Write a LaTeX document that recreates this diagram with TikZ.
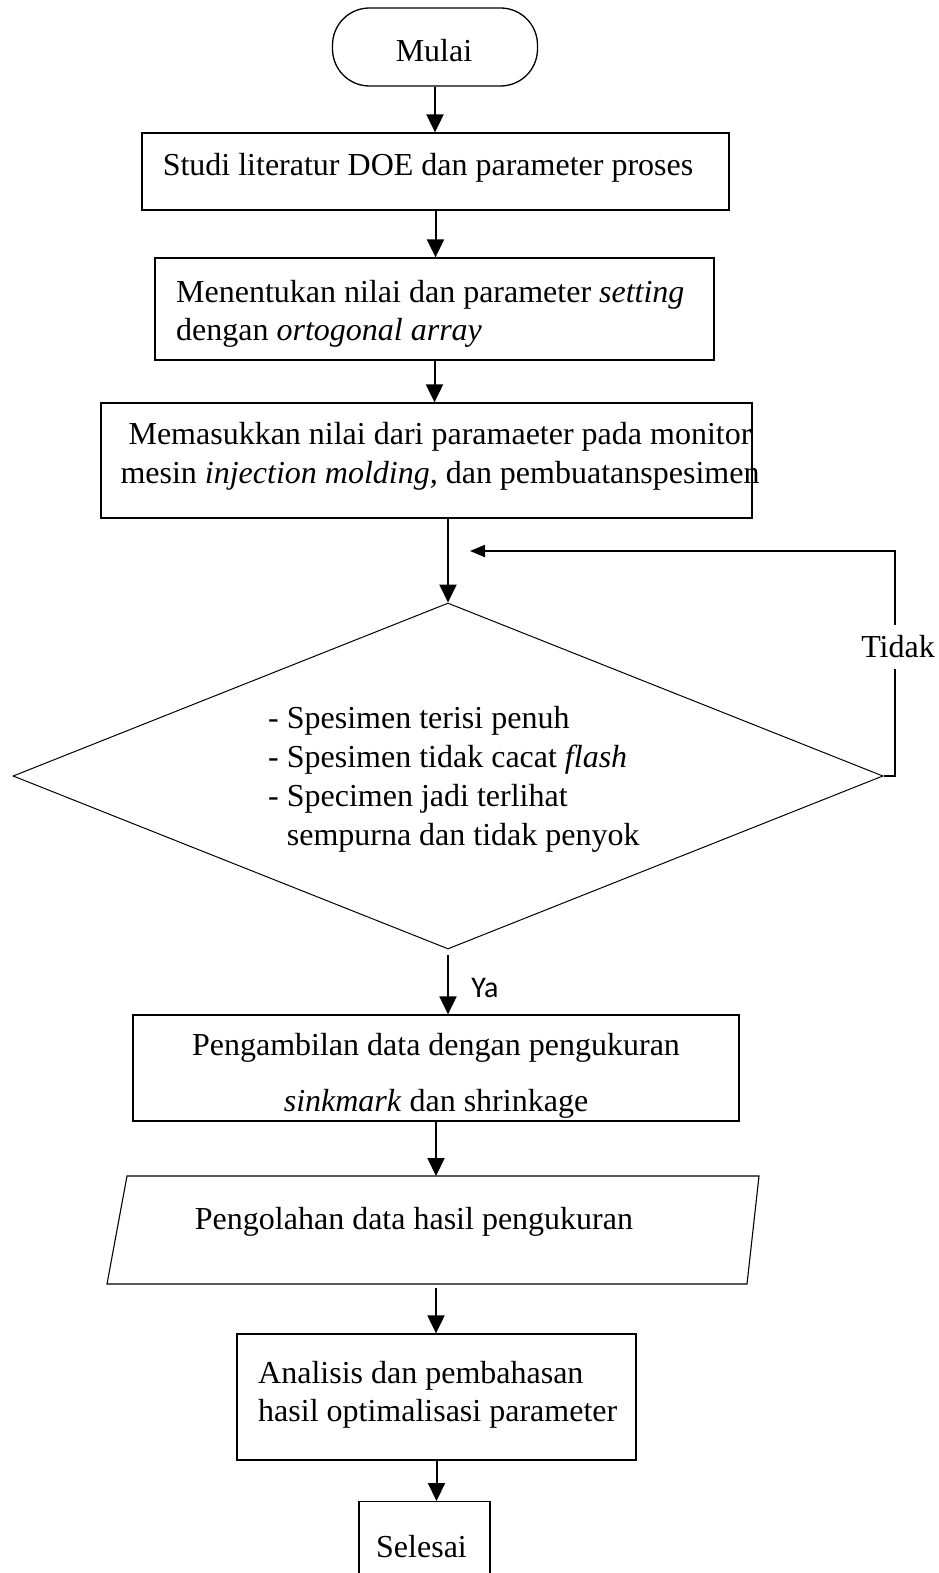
\documentclass[tikz,border=0pt]{standalone}
\usepackage{fontspec}
\setmainfont{Liberation Serif}
\newfontfamily\carl{Carlito}
\usetikzlibrary{shapes.geometric,arrows.meta}
\begin{document}
\begin{tikzpicture}[x=1pt,y=-1pt,
  box/.style={draw,line width=1.3pt,inner sep=0pt},
  txt/.style={font=\fontsize{32}{38.5}\selectfont, inner sep=0pt},
  arr/.style={line width=2pt,-{Triangle[width=17pt,length=18pt]}},
  fbarr/.style={line width=2pt,-{Triangle[width=12pt,length=15pt]}},
  thinline/.style={line width=1.1pt}]
\useasboundingbox (0,0) rectangle (938,1573);
\fill[white] (0,0) rectangle (938,1573);

% terminal start
\node[box, rounded corners=37pt, minimum width=205pt, minimum height=78pt] (mulai) at (435,47) {};
\node[txt] (tm) at (434,51) {Mulai};

% box 1
\node[box, minimum width=587pt, minimum height=77pt] (b1) at (435.5,171.5) {};
\node[txt] (t1) at (428,168) {Studi literatur DOE dan parameter proses};

% box 2
\node[box, minimum width=559pt, minimum height=102pt] (b2) at (434.5,309) {};
\node[txt, align=left, anchor=west] (t2) at (176,314) {Menentukan nilai dan parameter \textit{setting}\\dengan \textit{ortogonal array}};

% box 3
\node[box, minimum width=651pt, minimum height=115pt] (b3) at (426.5,460.5) {};
\node[txt, align=center] (t3) at (440,456.5) {Memasukkan nilai dari paramaeter pada monitor\\mesin \textit{injection molding,} dan pembuatanspesimen};

% decision
\node[draw, diamond, line width=1pt, inner sep=0pt, minimum width=870pt, minimum height=346pt] (d) at (448,776) {};
\node[txt, align=left, anchor=west, font=\fontsize{32}{39}\selectfont] (td) at (268,779.5) {- Spesimen terisi penuh\\- Spesimen tidak cacat \textit{flash}\\- Specimen jadi terlihat\\\hphantom{-\ }sempurna dan tidak penyok};

% feedback loop
\node[txt, inner ysep=11pt] (tidak) at (898,647) {Tidak};
\coordinate (fbR) at (895,776);
\coordinate (fbT) at (895,551);
\coordinate (fbE) at (470,551);
\draw[line width=2pt] (d.east) -- (fbR) -- (fbR |- tidak.south);
\draw[fbarr] (fbR |- tidak.north) -- (fbT) -- (fbE);

% yes label
\node[font=\carl\fontsize{30}{36}\selectfont, inner sep=0pt] (ya) at (485,988) {Ya};

% box 4
\node[box, minimum width=606pt, minimum height=106pt] (b4) at (436,1068) {};
\node[txt, align=center, font=\fontsize{32}{56}\selectfont] (t4) at (436,1076) {Pengambilan data dengan pengukuran\\\textit{sinkmark} dan shrinkage};

% parallelogram
\coordinate (pTL) at (127,1176);
\coordinate (pTR) at (759,1176);
\coordinate (pBR) at (747,1284);
\coordinate (pBL) at (107,1284);
\coordinate (pTop) at (436,1176);
\coordinate (pBot) at (436,1288);
\draw[thinline] (pTL) -- (pTR) -- (pBR) -- (pBL) -- cycle;
\node[txt] (tp) at (414,1222) {Pengolahan data hasil pengukuran};

% box 5
\node[box, minimum width=399pt, minimum height=126pt] (b5) at (436.5,1397) {};
\node[txt, align=left, anchor=west] (t5) at (258,1395) {Analisis dan pembahasan\\hasil optimalisasi parameter};

% end
\node[box, minimum width=131pt, minimum height=90pt, anchor=north] (s) at (424.5,1501) {};
\node[txt, anchor=west] (ts) at (376,1547) {Selesai};

% connectors
\draw[arr] (mulai.south) -- (mulai.south |- b1.north);
\draw[arr] (b1.south) -- (b1.south |- b2.north);
\draw[arr] (b2.south) -- (b2.south |- b3.north);
\draw[arr] (d.north |- b3.south) -- (d.north);
\draw[arr] ([yshift=-5pt]d.south) -- (d.south |- b4.north);
\draw[arr] (b4.south) -- (b4.south |- pTop);
\draw[arr] (pBot) -- (pBot |- b5.north);
\draw[arr] (b5.south) -- (b5.south |- s.north);
\end{tikzpicture}
\end{document}
